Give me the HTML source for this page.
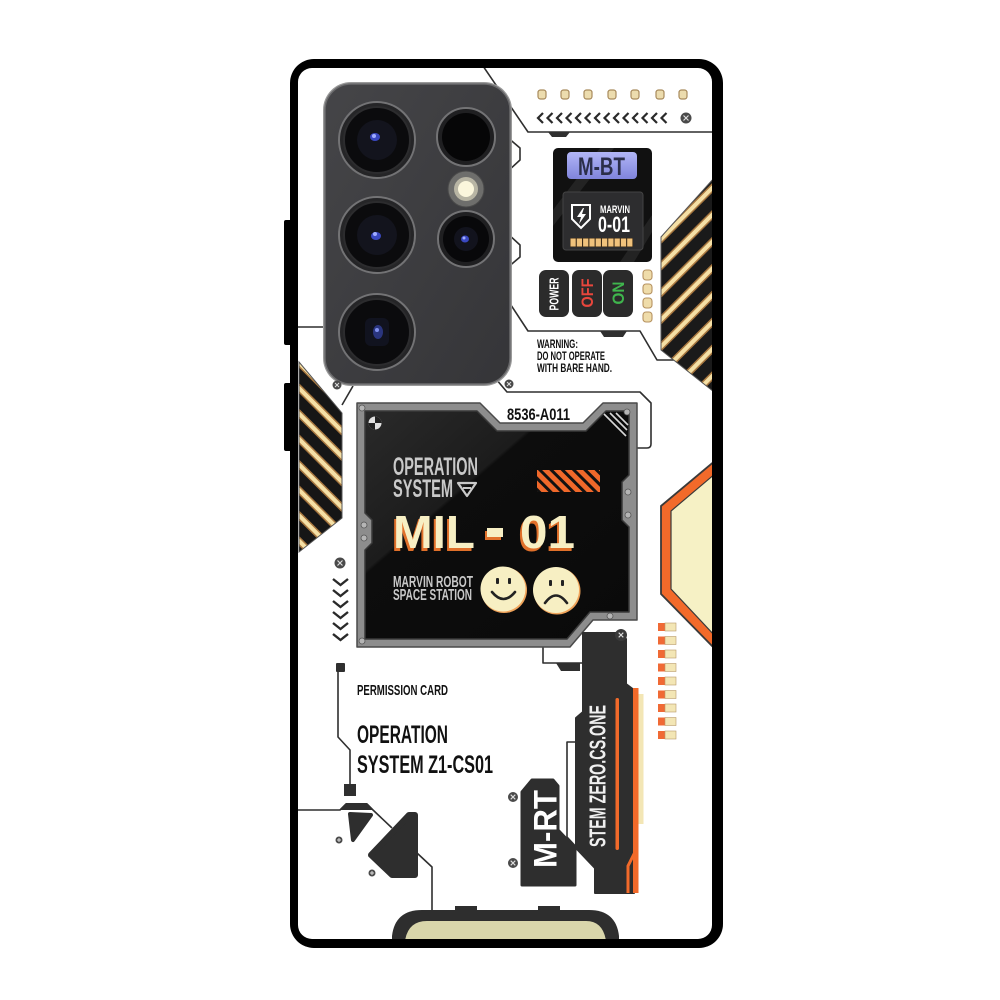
<!DOCTYPE html>
<html><head><meta charset="utf-8">
<style>
html,body{margin:0;padding:0;background:#fff;}
svg{display:block;}
text{font-family:"Liberation Sans","DejaVu Sans",sans-serif;}
</style></head><body>
<svg width="1000" height="1000" viewBox="0 0 1000 1000" xmlns="http://www.w3.org/2000/svg">
<defs>
<pattern id="stL" width="18" height="18" patternUnits="userSpaceOnUse" patternTransform="rotate(45)">
<rect width="18" height="18" fill="#161616"/>
<rect x="0" y="5.5" width="18" height="7" fill="#a8773f"/>
<rect x="0" y="7" width="18" height="4" fill="#f5e0a6"/>
</pattern>
<pattern id="stR" width="19" height="19" patternUnits="userSpaceOnUse" patternTransform="rotate(-45)">
<rect width="19" height="19" fill="#1a1a1a"/>
<rect x="0" y="6" width="19" height="7" fill="#a8773f"/>
<rect x="0" y="7.5" width="19" height="4" fill="#f5e0a6"/>
</pattern>
<pattern id="stO" width="8" height="8" patternUnits="userSpaceOnUse" patternTransform="rotate(45)">
<rect width="8" height="8" fill="#111"/>
<rect x="0" y="0" width="8" height="5" fill="#f0682a"/>
</pattern>
<linearGradient id="glare" x1="0" y1="0" x2="1" y2="1">
<stop offset="0" stop-color="#2a2a2a"/>
<stop offset="0.35" stop-color="#1c1c1c"/>
<stop offset="0.36" stop-color="#0d0d0d"/>
<stop offset="1" stop-color="#0a0a0a"/>
</linearGradient>
<linearGradient id="lav" x1="0" y1="0" x2="0" y2="1">
<stop offset="0" stop-color="#b2b6f6"/>
<stop offset="1" stop-color="#7f84dc"/>
</linearGradient>
<linearGradient id="cam" x1="0" y1="0" x2="1" y2="1">
<stop offset="0" stop-color="#454548"/>
<stop offset="1" stop-color="#353538"/>
</linearGradient>
<clipPath id="inner"><rect x="298" y="68" width="414" height="871" rx="14"/></clipPath>
</defs>

<rect width="1000" height="1000" fill="#fff"/>

<!-- side buttons -->
<rect x="284" y="220" width="8" height="125" rx="2" fill="#000"/>
<rect x="284" y="383" width="8" height="68" rx="2" fill="#000"/>
<!-- case -->
<rect x="290" y="59" width="433" height="889" rx="24" fill="#000"/>
<rect x="298" y="68" width="414" height="871" rx="14" fill="#fff"/>

<g clip-path="url(#inner)">

<!-- traces -->
<g fill="none" stroke="#2f2f2f" stroke-width="1.6" stroke-linejoin="round">
<path d="M483,66 L528,132 L715,132"/>
<path d="M507,137 L520,148 L520,160 L507,172"/>
<path d="M507,233 L520,245 L520,257 L507,268"/>
<path d="M505,296 L528,331 L640,331 L657,360 L678,360"/>
<path d="M490,372 L507,392 L640,392 L651,403 L651,444 Q651,448 647,448 L636,448"/>
<path d="M298,327 L326,327"/>
<path d="M342,405 L353,386"/>
<path d="M543,646 L543,663 L582,663"/>
<path d="M580,742 L567,742 L567,837 L580,851"/>
<path d="M338,671 L338,737 L350,750 L350,785"/>
<path d="M298,810 L340,810 L346,804 L367,804 L373,810 L392,828"/>
<path d="M417,853 L432,867 L432,912"/>
</g>
<polygon points="548,132 570,132 566,137 552,137" fill="#2f2f2f"/>
<polygon points="600,331 627,331 623,337 604,337" fill="#2f2f2f"/>
<polygon points="556,663 580,663 580,671 561,671" fill="#2f2f2f"/>
<polygon points="340,810 346,803 367,803 373,810" fill="#2f2f2f"/>
<rect x="336" y="663" width="9" height="9" rx="1" fill="#2f2f2f"/>
<rect x="344" y="784" width="12" height="12" fill="#2f2f2f"/>

<!-- camera module -->
<rect x="323" y="82" width="189" height="304" rx="28" fill="#9a9a9a"/>
<rect x="325" y="84" width="185" height="300" rx="26" fill="url(#cam)" stroke="#6a6a6c" stroke-width="1.5"/>
<g>
<circle cx="377" cy="140" r="38" fill="#252527" stroke="#737375" stroke-width="2"/>
<circle cx="377" cy="140" r="33" fill="#0b0b0d" stroke="#2c2c2e" stroke-width="2"/>
<circle cx="377" cy="140" r="20" fill="#13141d"/>
<ellipse cx="375" cy="137" rx="5" ry="4" fill="#3a48c0"/>
<circle cx="374" cy="136" r="2" fill="#a0acff"/>

<circle cx="377" cy="235" r="38" fill="#252527" stroke="#737375" stroke-width="2"/>
<circle cx="377" cy="235" r="33" fill="#0b0b0d" stroke="#2c2c2e" stroke-width="2"/>
<circle cx="377" cy="235" r="20" fill="#13141d"/>
<ellipse cx="376" cy="236" rx="5" ry="4" fill="#3a48c0"/>
<circle cx="375" cy="234" r="2" fill="#a0acff"/>

<circle cx="377" cy="332" r="38" fill="#252527" stroke="#737375" stroke-width="2"/>
<circle cx="377" cy="332" r="33" fill="#0b0b0d" stroke="#2c2c2e" stroke-width="2"/>
<rect x="365" y="318" width="24" height="28" rx="6" fill="#11131f"/>
<ellipse cx="378" cy="332" rx="5" ry="7" fill="#2a357e"/>
<circle cx="377" cy="330" r="2" fill="#8090ee"/>

<circle cx="466" cy="137" r="29" fill="#1f1f21" stroke="#737375" stroke-width="2"/>
<circle cx="466" cy="137" r="24" fill="#060607"/>

<circle cx="466" cy="189" r="18" fill="#6e6e6c" stroke="#4a4a4a" stroke-width="1"/>
<circle cx="466" cy="189" r="12" fill="#b8b5a4"/>
<circle cx="466" cy="189" r="8" fill="#fbf6dc"/>

<circle cx="466" cy="239" r="28" fill="#1f1f21" stroke="#737375" stroke-width="2"/>
<circle cx="466" cy="239" r="23" fill="#08080a"/>
<circle cx="466" cy="239" r="12" fill="#12131d"/>
<ellipse cx="465" cy="239" rx="4" ry="3.5" fill="#3a48c0"/>
<circle cx="464" cy="238" r="1.5" fill="#a0acff"/>
</g>

<!-- top LEDs -->
<g fill="#ecdcae" stroke="#a88a5c" stroke-width="1.2">
<rect x="538" y="90" width="8" height="9" rx="2.5"/>
<rect x="561" y="90" width="8" height="9" rx="2.5"/>
<rect x="584" y="90" width="8" height="9" rx="2.5"/>
<rect x="608" y="90" width="8" height="9" rx="2.5"/>
<rect x="631" y="90" width="8" height="9" rx="2.5"/>
<rect x="656" y="90" width="8" height="9" rx="2.5"/>
<rect x="679" y="90" width="8" height="9" rx="2.5"/>
</g>
<!-- chevrons -->
<g fill="none" stroke="#2a2a2a" stroke-width="2.2">
<path d="M543,113 L538,118 L543,123"/>
<path d="M552.5,113 L547.5,118 L552.5,123"/>
<path d="M562,113 L557,118 L562,123"/>
<path d="M571.5,113 L566.5,118 L571.5,123"/>
<path d="M581,113 L576,118 L581,123"/>
<path d="M590.5,113 L585.5,118 L590.5,123"/>
<path d="M600,113 L595,118 L600,123"/>
<path d="M609.5,113 L604.5,118 L609.5,123"/>
<path d="M619,113 L614,118 L619,123"/>
<path d="M628.5,113 L623.5,118 L628.5,123"/>
<path d="M638,113 L633,118 L638,123"/>
<path d="M647.5,113 L642.5,118 L647.5,123"/>
<path d="M657,113 L652,118 L657,123"/>
<path d="M666.5,113 L661.5,118 L666.5,123"/>
</g>

<!-- screws x -->
<g>
<circle cx="686" cy="118" r="5.5" fill="#4a4a4a"/>
<path d="M683.5,115.5 L688.5,120.5 M688.5,115.5 L683.5,120.5" stroke="#ddd" stroke-width="1.2"/>
<circle cx="340" cy="563" r="5.5" fill="#4a4a4a"/>
<path d="M337.5,560.5 L342.5,565.5 M342.5,560.5 L337.5,565.5" stroke="#ddd" stroke-width="1.2"/>
<circle cx="513" cy="797" r="5" fill="#4a4a4a"/>
<path d="M510.7,794.7 L515.3,799.3 M515.3,794.7 L510.7,799.3" stroke="#ddd" stroke-width="1.1"/>
<circle cx="513" cy="863" r="5" fill="#4a4a4a"/>
<path d="M510.7,860.7 L515.3,865.3 M515.3,860.7 L510.7,865.3" stroke="#ddd" stroke-width="1.1"/>
<circle cx="509" cy="384" r="4.5" fill="#4a4a4a"/>
<path d="M507,382 L511,386 M511,382 L507,386" stroke="#ddd" stroke-width="1"/>
<circle cx="337" cy="385" r="4.5" fill="#4a4a4a"/>
<path d="M335,383 L339,387 M339,383 L335,387" stroke="#ddd" stroke-width="1"/>
<circle cx="339" cy="840" r="3.5" fill="#4a4a4a"/>
<path d="M337,840 L341,840 M339,838 L339,842" stroke="#ddd" stroke-width="1"/>
<circle cx="372" cy="873" r="3.5" fill="#4a4a4a"/>
<path d="M370,873 L374,873 M372,871 L372,875" stroke="#ddd" stroke-width="1"/>
</g>

<!-- M-BT module -->
<rect x="553" y="148" width="99" height="114" rx="5" fill="#111"/>
<polygon points="553,210 600,148 614,148 553,226" fill="#fff" opacity="0.08"/>
<polygon points="620,262 652,215 652,232 634,262" fill="#fff" opacity="0.08"/>
<rect x="567" y="152" width="70" height="27" rx="4" fill="url(#lav)"/>
<text x="578" y="175" font-size="25" font-weight="bold" fill="#2b2e4a" textLength="47" lengthAdjust="spacingAndGlyphs">M-BT</text>
<rect x="563" y="192" width="80" height="58" rx="3" fill="#2d2d2f" stroke="#444" stroke-width="1"/>
<path d="M572,205 L590,205 L590,219 L581,228 L572,219 Z" fill="none" stroke="#fff" stroke-width="2"/>
<path d="M583,208 L577,217 L581,217 L579,224 L586,214 L582,214 L584,208 Z" fill="#fff"/>
<text x="600" y="213" font-size="11" font-weight="bold" fill="#fff" textLength="30" lengthAdjust="spacingAndGlyphs">MARVIN</text>
<text x="598" y="232" font-size="22" font-weight="bold" fill="#fff" textLength="32" lengthAdjust="spacingAndGlyphs">0-01</text>
<rect x="570" y="238" width="63" height="9" fill="#3a2a18"/>
<g fill="#f0c27c">
<rect x="570.5" y="238.5" width="5.2" height="8"/><rect x="576.8" y="238.5" width="5.2" height="8"/>
<rect x="583.1" y="238.5" width="5.2" height="8"/><rect x="589.4" y="238.5" width="5.2" height="8"/>
<rect x="595.7" y="238.5" width="5.2" height="8"/><rect x="602" y="238.5" width="5.2" height="8"/>
<rect x="608.3" y="238.5" width="5.2" height="8"/><rect x="614.6" y="238.5" width="5.2" height="8"/>
<rect x="620.9" y="238.5" width="5.2" height="8"/><rect x="627.2" y="238.5" width="5.2" height="8"/>
</g>

<!-- power buttons -->
<rect x="539" y="270" width="30" height="47" rx="7" fill="#2b2b2b"/>
<rect x="572" y="270" width="30" height="47" rx="7" fill="#2b2b2b"/>
<rect x="603" y="270" width="30" height="47" rx="7" fill="#2b2b2b"/>
<g transform="translate(554,294) rotate(-90)"><text x="0" y="4.7" font-size="13" font-weight="bold" fill="#fff" text-anchor="middle" textLength="33" lengthAdjust="spacingAndGlyphs">POWER</text></g>
<g transform="translate(587,293) rotate(-90)"><text x="0" y="6" font-size="17" font-weight="bold" fill="#e8463c" text-anchor="middle" textLength="29" lengthAdjust="spacingAndGlyphs">OFF</text></g>
<g transform="translate(618,293) rotate(-90)"><text x="0" y="6" font-size="17" font-weight="bold" fill="#3fb54d" text-anchor="middle" textLength="23" lengthAdjust="spacingAndGlyphs">ON</text></g>

<!-- right LED column -->
<g fill="#efdcaa" stroke="#b69260" stroke-width="1.1">
<rect x="643" y="270" width="9" height="10" rx="3"/>
<rect x="643" y="284" width="9" height="10" rx="3"/>
<rect x="643" y="298" width="9" height="10" rx="3"/>
<rect x="643" y="312" width="9" height="10" rx="3"/>
</g>

<!-- striped panels -->
<polygon points="714,178 661,237 661,350 714,392" fill="url(#stR)" stroke="#555" stroke-width="1"/>
<polygon points="299,362 342,413 342,518 299,552" fill="url(#stL)" stroke="#555" stroke-width="1"/>

<!-- WARNING -->
<text x="537" y="348" font-size="11.5" font-weight="bold" fill="#111" textLength="41" lengthAdjust="spacingAndGlyphs">WARNING:</text>
<text x="537" y="360" font-size="11.5" font-weight="bold" fill="#111" textLength="68" lengthAdjust="spacingAndGlyphs">DO NOT OPERATE</text>
<text x="537" y="372" font-size="11.5" font-weight="bold" fill="#111" textLength="75" lengthAdjust="spacingAndGlyphs">WITH BARE HAND.</text>

<!-- down chevrons -->
<g fill="none" stroke="#2a2a2a" stroke-width="2.4">
<path d="M333,579 L340.5,585 L348,579"/>
<path d="M333,590 L340.5,596 L348,590"/>
<path d="M333,601 L340.5,607 L348,601"/>
<path d="M333,612 L340.5,618 L348,612"/>
<path d="M333,623 L340.5,629 L348,623"/>
<path d="M333,634 L340.5,640 L348,634"/>
</g>

<!-- screen -->
<path d="M357,403 L480,403 L500,423 L583,423 L603,403 L637,403 L637,620 L593,620 L570,647 L357,647 Z" fill="#8d8d8d" stroke="#4a4a4a" stroke-width="1.5" stroke-linejoin="round"/>
<path d="M365,411 L477,411 L497,431 L586,431 L606,411 L629,411 L629,475 L622,482 L622,520 L629,527 L629,612 L590,612 L567,639 L365,639 L365,550 L372,543 L372,520 L365,513 Z" fill="url(#glare)" stroke="#3a3a3a" stroke-width="1.5" stroke-linejoin="round"/>
<g stroke="#d8d8d8" stroke-width="1.6">
<line x1="604" y1="414" x2="626" y2="436"/>
<line x1="610" y1="413" x2="627" y2="430"/>
<line x1="616" y1="413" x2="628" y2="425"/>
</g>
<g fill="#b5b5b5" stroke="#555" stroke-width="0.8">
<circle cx="362" cy="408" r="3"/><circle cx="627" cy="412" r="3"/>
<circle cx="628" cy="492" r="3"/><circle cx="628" cy="515" r="3"/>
<circle cx="364" cy="525" r="3"/><circle cx="364" cy="538" r="3"/>
<circle cx="362" cy="641" r="3"/><circle cx="610" cy="616" r="3"/>
</g>
<circle cx="375" cy="423" r="6.5" fill="#e0e0e0"/>
<path d="M375,423 L375,416.5 A6.5,6.5 0 0 1 381.5,423 Z M375,423 L375,429.5 A6.5,6.5 0 0 1 368.5,423 Z" fill="#222"/>
<text x="507" y="420" font-size="17" font-weight="bold" fill="#111" textLength="63" lengthAdjust="spacingAndGlyphs">8536-A011</text>

<text x="393" y="475" font-size="25" font-weight="bold" fill="#c9c9c9" textLength="85" lengthAdjust="spacingAndGlyphs">OPERATION</text>
<text x="393" y="497" font-size="25" font-weight="bold" fill="#c9c9c9" textLength="60" lengthAdjust="spacingAndGlyphs">SYSTEM</text>
<path d="M458,483 L476,483 L467,496 Z" fill="none" stroke="#c9c9c9" stroke-width="2.2" stroke-linejoin="round"/>
<path d="M463,488 L471,488" stroke="#c9c9c9" stroke-width="2"/>
<rect x="537" y="470" width="63" height="22" fill="url(#stO)"/>

<!-- MIL - 01 -->
<text x="391" y="551" font-size="46" font-weight="bold" fill="#e0702a" textLength="82" lengthAdjust="spacingAndGlyphs">MIL</text>
<text x="393" y="548" font-size="46" font-weight="bold" fill="#f7efc4" textLength="82" lengthAdjust="spacingAndGlyphs">MIL</text>
<rect x="485" y="531" width="16" height="9" fill="#e0702a"/>
<rect x="487" y="528" width="16" height="9" fill="#f7efc4"/>
<text x="518" y="551" font-size="46" font-weight="bold" fill="#e0702a" textLength="55" lengthAdjust="spacingAndGlyphs">01</text>
<text x="520" y="548" font-size="46" font-weight="bold" fill="#f7efc4" textLength="55" lengthAdjust="spacingAndGlyphs">01</text>

<text x="393" y="587" font-size="15.5" font-weight="bold" fill="#c9c9c9" textLength="80" lengthAdjust="spacingAndGlyphs">MARVIN ROBOT</text>
<text x="393" y="600" font-size="15.5" font-weight="bold" fill="#c9c9c9" textLength="79" lengthAdjust="spacingAndGlyphs">SPACE STATION</text>

<circle cx="504" cy="590" r="23" fill="#f0a35a"/>
<circle cx="503" cy="589" r="22.5" fill="#f7efc3"/>
<rect x="496" y="578" width="3" height="6" rx="1" fill="#222"/>
<rect x="508" y="578" width="3" height="6" rx="1" fill="#222"/>
<path d="M492,592 Q503.5,606 515,592" fill="none" stroke="#222" stroke-width="2.6" stroke-linecap="round"/>
<circle cx="557" cy="591" r="23.5" fill="#f0a35a"/>
<circle cx="556" cy="590" r="23" fill="#f7efc3"/>
<rect x="549" y="580" width="3" height="6" rx="1" fill="#222"/>
<rect x="561" y="580" width="3" height="6" rx="1" fill="#222"/>
<path d="M545,603 Q556,588 567,603" fill="none" stroke="#222" stroke-width="2.6" stroke-linecap="round"/>

<!-- hexagon -->
<polygon points="716,460 661,506 661,594 716,650" fill="#f26a2a" stroke="#3a3a3a" stroke-width="1.8" stroke-linejoin="round"/>
<polygon points="716,473 671,511 671,589 716,637" fill="#f6f1c5" stroke="#3a3a3a" stroke-width="1.2"/>

<!-- small LED column -->
<g>
<rect x="658" y="623" width="7" height="8" fill="#f06a35"/><rect x="665" y="623" width="11" height="8" fill="#f3e6b5" stroke="#b89a6a" stroke-width="0.6"/>
<rect x="658" y="636.5" width="7" height="8" fill="#f06a35"/><rect x="665" y="636.5" width="11" height="8" fill="#f3e6b5" stroke="#b89a6a" stroke-width="0.6"/>
<rect x="658" y="650" width="7" height="8" fill="#f06a35"/><rect x="665" y="650" width="11" height="8" fill="#f3e6b5" stroke="#b89a6a" stroke-width="0.6"/>
<rect x="658" y="663.5" width="7" height="8" fill="#f06a35"/><rect x="665" y="663.5" width="11" height="8" fill="#f3e6b5" stroke="#b89a6a" stroke-width="0.6"/>
<rect x="658" y="677" width="7" height="8" fill="#f06a35"/><rect x="665" y="677" width="11" height="8" fill="#f3e6b5" stroke="#b89a6a" stroke-width="0.6"/>
<rect x="658" y="690.5" width="7" height="8" fill="#f06a35"/><rect x="665" y="690.5" width="11" height="8" fill="#f3e6b5" stroke="#b89a6a" stroke-width="0.6"/>
<rect x="658" y="704" width="7" height="8" fill="#f06a35"/><rect x="665" y="704" width="11" height="8" fill="#f3e6b5" stroke="#b89a6a" stroke-width="0.6"/>
<rect x="658" y="717.5" width="7" height="8" fill="#f06a35"/><rect x="665" y="717.5" width="11" height="8" fill="#f3e6b5" stroke="#b89a6a" stroke-width="0.6"/>
<rect x="658" y="731" width="7" height="8" fill="#f06a35"/><rect x="665" y="731" width="11" height="8" fill="#f3e6b5" stroke="#b89a6a" stroke-width="0.6"/>
</g>

<!-- STEM block -->
<path d="M583,633 L620,633 L626,639 L626,684 L634,690 L634,893 L595,893 L595,868 L576,848 L576,718 L583,712 Z" fill="#2e2e2e" stroke="#2e2e2e" stroke-width="2" stroke-linejoin="round"/>
<circle cx="621" cy="635" r="6" fill="#3a3a3a"/>
<path d="M618.7,632.7 L623.3,637.3 M623.3,632.7 L618.7,637.3" stroke="#ddd" stroke-width="1.1"/>
<rect x="633" y="688" width="5.5" height="205" fill="#f26a2a"/>
<rect x="638.5" y="694" width="5" height="130" fill="#f3e6b5"/>
<path d="M636,850 L628,866 L628,893" stroke="#f26a2a" stroke-width="3" fill="none"/>
<rect x="615.5" y="698" width="3.5" height="152" rx="1.7" fill="#f26a2a"/>
<g transform="translate(597,776) rotate(-90)"><text x="0" y="8.5" font-size="23" font-weight="bold" fill="#f0f0f0" text-anchor="middle" textLength="142" lengthAdjust="spacingAndGlyphs">STEM ZERO.CS.ONE</text></g>

<!-- M-RT block -->
<path d="M532,780 L553,780 L558,786 L558,830 L575,848 L575,885 L522,885 L522,792 Z" fill="#2e2e2e" stroke="#2e2e2e" stroke-width="3" stroke-linejoin="round"/>
<g transform="translate(545,829) rotate(-90)"><text x="0" y="11.5" font-size="32" font-weight="bold" fill="#fff" text-anchor="middle" textLength="78" lengthAdjust="spacingAndGlyphs">M-RT</text></g>

<!-- permission -->
<text x="357" y="695" font-size="15" font-weight="bold" fill="#111" textLength="91" lengthAdjust="spacingAndGlyphs">PERMISSION CARD</text>
<text x="357" y="743" font-size="25" font-weight="bold" fill="#111" textLength="91" lengthAdjust="spacingAndGlyphs">OPERATION</text>
<text x="357" y="773" font-size="25" font-weight="bold" fill="#111" textLength="136" lengthAdjust="spacingAndGlyphs">SYSTEM Z1-CS01</text>

<path d="M350,814 L371,815 L353,840 Z" fill="#2e2e2e" stroke="#2e2e2e" stroke-width="4" stroke-linejoin="round"/>
<path d="M409,815 L415,815 L415,875 L392,875 L371,855 Z" fill="#2e2e2e" stroke="#2e2e2e" stroke-width="6" stroke-linejoin="round"/>

<!-- bottom hump -->
<path d="M392,941 L392,936 Q395,910 422,910 L589,910 Q616,910 619,936 L619,941 Z" fill="#2e2e2e"/>
<path d="M405,941 Q408,921 427,921 L586,921 Q603,921 606,941 Z" fill="#d9d6ab"/>
<rect x="455" y="906" width="22" height="5" fill="#2e2e2e"/>
<rect x="538" y="906" width="22" height="5" fill="#2e2e2e"/>

</g>
</svg>
</body></html>
